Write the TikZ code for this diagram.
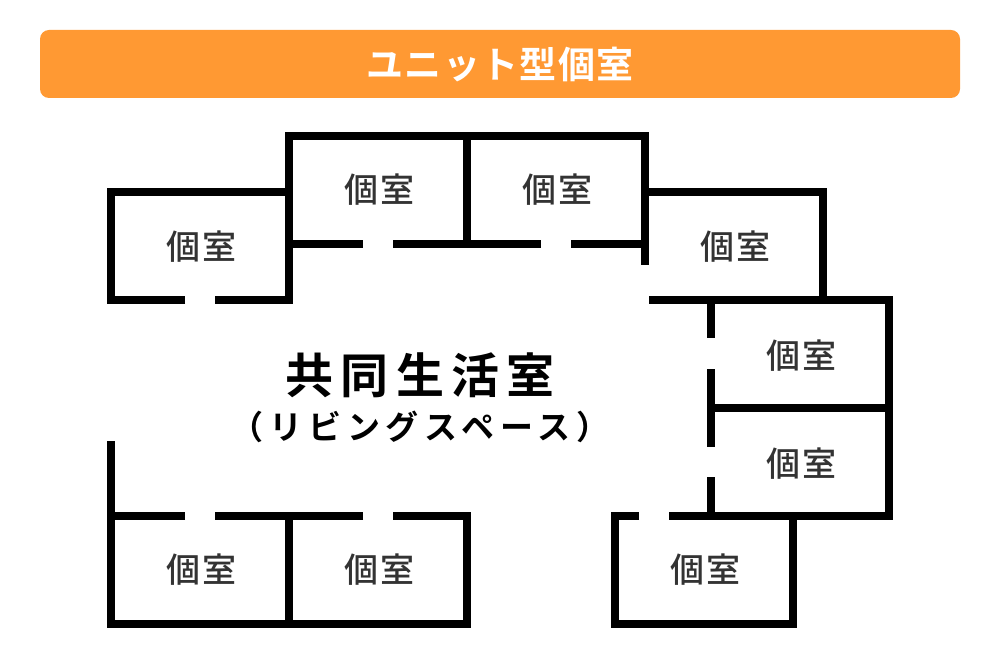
\documentclass[tikz,border=0pt]{standalone}
\usepackage{fontspec}
\setmainfont{Noto Sans CJK JP}
\newfontfamily\roomfont[LetterSpace=6]{Noto Sans CJK JP Medium}
\newfontfamily\titlefont[LetterSpace=3.5]{Noto Sans CJK JP Bold}
\newfontfamily\mainfont[LetterSpace=15]{Noto Sans CJK JP Bold}
\newfontfamily\subfont[LetterSpace=18]{Noto Sans CJK JP Bold}
\tikzset{
  wall/.style={line width=8pt,black,line cap=butt,line join=miter},
  room/.style={font=\roomfont\fontsize{34}{38}\selectfont,text=black!80,inner sep=0pt},
}
\definecolor{band}{HTML}{FF9933}
\begin{document}
\begin{tikzpicture}[x=1pt,y=-1pt]
\useasboundingbox (0,0) rectangle (1000,660);
\fill[white] (0,0) rectangle (1000,660);
\fill[band,rounded corners=9pt] (40,30) rectangle (960,98);
\node[font=\titlefont\fontsize{37}{42}\selectfont,text=white,inner sep=0pt] (title) at (500,65) {ユニット型個室};
% upper left
\draw[wall] (185,300) -- (111,300) -- (111,192) -- (289,192);
\draw[wall] (215,300) -- (289,300) -- (289,136) -- (645,136) -- (645,265);
\draw[wall] (289,244) -- (363,244);
\draw[wall] (393,244) -- (541,244);
\draw[wall] (571,244) -- (645,244);
\draw[wall] (467,136) -- (467,244);
% upper right
\draw[wall] (645,192) -- (823,192) -- (823,300);
\draw[wall] (649,300) -- (889,300) -- (889,516) -- (669,516);
\draw[wall] (711,300) -- (711,338);
\draw[wall] (711,369) -- (711,447);
\draw[wall] (711,477) -- (711,516);
\draw[wall] (711,408) -- (889,408);
% lower right
\draw[wall] (639,516) -- (615,516) -- (615,624) -- (793,624) -- (793,516);
% lower left
\draw[wall] (111,441) -- (111,624) -- (467,624) -- (467,516) -- (393,516);
\draw[wall] (363,516) -- (215,516);
\draw[wall] (185,516) -- (111,516);
\draw[wall] (289,516) -- (289,624);
% labels
\node[room] (r1) at (202,247) {個室};
\node[room] (r2) at (380,190) {個室};
\node[room] (r3) at (558,190) {個室};
\node[room] (r4) at (736,247) {個室};
\node[room] (r5) at (802,356) {個室};
\node[room] (r6) at (802,464) {個室};
\node[room] (r7) at (202,570) {個室};
\node[room] (r8) at (380,570) {個室};
\node[room] (r9) at (706,570) {個室};
\node[font=\mainfont\fontsize{48}{54}\selectfont,text=black,inner sep=0pt] (main) at (420,375) {共同生活室};
\node[font=\subfont\fontsize{33}{38}\selectfont,text=black,inner sep=0pt] (sub) at (420,427) {（\hspace{6pt}リビングスペース\hspace{6pt}）};
\end{tikzpicture}
\end{document}
